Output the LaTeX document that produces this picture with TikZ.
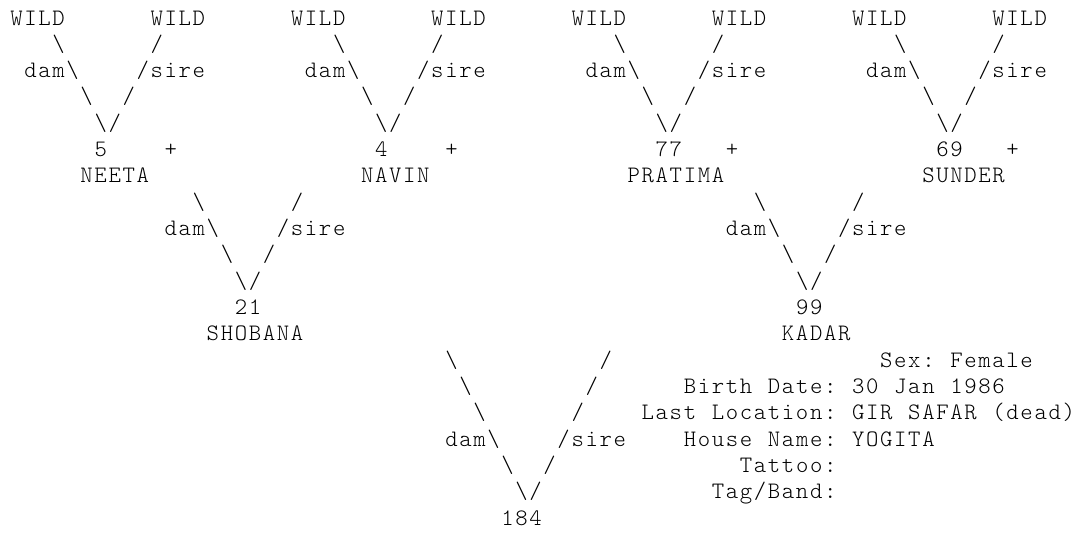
\documentclass[tikz,border=0pt]{standalone}
\usepackage{fontspec}
\newfontfamily\monofnt{Latin Modern Mono Light}
\newcommand\pedfont{\monofnt\fontsize{11.8pt}{13pt}\selectfont}
\newcommand\bs{\textbackslash}
\makeatletter
\newcommand\grid[1]{\@tfor\gc:=#1\do{\makebox[7.015pt][c]{\gc}}}
\makeatother
\newcommand\tk[4]{\node[tok] (#1) at ({9.5+14.03*#2},{-25-26.32*(#3-1)}) {\grid{#4}};}
\begin{document}
\begin{tikzpicture}[x=0.5pt,y=0.5pt,
  tok/.style={anchor=base west,inner sep=0pt,outer sep=0pt,font=\pedfont,text=black}]
\useasboundingbox[fill=white] (0,0) rectangle (1077,-532);
% row 1
\tk{w1}{0}{1}{WILD}
\tk{w2}{10}{1}{WILD}
\tk{w3}{20}{1}{WILD}
\tk{w4}{30}{1}{WILD}
\tk{w5}{40}{1}{WILD}
\tk{w6}{50}{1}{WILD}
\tk{w7}{60}{1}{WILD}
\tk{w8}{70}{1}{WILD}
% row 2
\tk{a2}{3}{2}{\bs}
\tk{b2}{10}{2}{/}
\tk{c2}{23}{2}{\bs}
\tk{d2}{30}{2}{/}
\tk{e2}{43}{2}{\bs}
\tk{f2}{50}{2}{/}
\tk{g2}{63}{2}{\bs}
\tk{h2}{70}{2}{/}
% row 3
\tk{a3}{1}{3}{dam\bs}
\tk{b3}{9}{3}{/sire}
\tk{c3}{21}{3}{dam\bs}
\tk{d3}{29}{3}{/sire}
\tk{e3}{41}{3}{dam\bs}
\tk{f3}{49}{3}{/sire}
\tk{g3}{61}{3}{dam\bs}
\tk{h3}{69}{3}{/sire}
% row 4
\tk{a4}{5}{4}{\bs}
\tk{b4}{8}{4}{/}
\tk{c4}{25}{4}{\bs}
\tk{d4}{28}{4}{/}
\tk{e4}{45}{4}{\bs}
\tk{f4}{48}{4}{/}
\tk{g4}{65}{4}{\bs}
\tk{h4}{68}{4}{/}
% row 5
\tk{a5}{6}{5}{\bs/}
\tk{c5}{26}{5}{\bs/}
\tk{e5}{46}{5}{\bs/}
\tk{g5}{66}{5}{\bs/}
% row 6
\tk{n5}{6}{6}{5}
\tk{p5}{11}{6}{+}
\tk{n4}{26}{6}{4}
\tk{p4}{31}{6}{+}
\tk{n77}{46}{6}{77}
\tk{p77}{51}{6}{+}
\tk{n69}{66}{6}{69}
\tk{p69}{71}{6}{+}
% row 7
\tk{neeta}{5}{7}{NEETA}
\tk{navin}{25}{7}{NAVIN}
\tk{pratima}{44}{7}{PRATIMA}
\tk{sunder}{65}{7}{SUNDER}
% row 8
\tk{a8}{13}{8}{\bs}
\tk{b8}{20}{8}{/}
\tk{c8}{53}{8}{\bs}
\tk{d8}{60}{8}{/}
% row 9
\tk{a9}{11}{9}{dam\bs}
\tk{b9}{19}{9}{/sire}
\tk{c9}{51}{9}{dam\bs}
\tk{d9}{59}{9}{/sire}
% row 10
\tk{a10}{15}{10}{\bs}
\tk{b10}{18}{10}{/}
\tk{c10}{55}{10}{\bs}
\tk{d10}{58}{10}{/}
% row 11
\tk{a11}{16}{11}{\bs/}
\tk{c11}{56}{11}{\bs/}
% row 12
\tk{n21}{16}{12}{21}
\tk{n99}{56}{12}{99}
% row 13
\tk{shobana}{14}{13}{SHOBANA}
\tk{kadar}{55}{13}{KADAR}
% row 14
\tk{a14}{31}{14}{\bs}
\tk{b14}{42}{14}{/}
\tk{sexl}{62}{14}{Sex:}
\tk{sexv}{67}{14}{Female}
% row 15
\tk{a15}{32}{15}{\bs}
\tk{b15}{41}{15}{/}
\tk{birthl1}{48}{15}{Birth}
\tk{birthl2}{54}{15}{Date:}
\tk{birthv1}{60}{15}{30}
\tk{birthv2}{63}{15}{Jan}
\tk{birthv3}{67}{15}{1986}
% row 16
\tk{a16}{33}{16}{\bs}
\tk{b16}{40}{16}{/}
\tk{locl1}{45}{16}{Last}
\tk{locl2}{50}{16}{Location:}
\tk{locv1}{60}{16}{GIR}
\tk{locv2}{64}{16}{SAFAR}
\tk{locv3}{70}{16}{(dead)}
% row 17
\tk{a17}{31}{17}{dam\bs}
\tk{b17}{39}{17}{/sire}
\tk{housel1}{48}{17}{House}
\tk{housel2}{54}{17}{Name:}
\tk{housev}{60}{17}{YOGITA}
% row 18
\tk{a18}{35}{18}{\bs}
\tk{b18}{38}{18}{/}
\tk{tattoo}{52}{18}{Tattoo:}
% row 19
\tk{a19}{36}{19}{\bs/}
\tk{tag}{50}{19}{Tag/Band:}
% row 20
\tk{n184}{35}{20}{184}
\end{tikzpicture}
\end{document}
